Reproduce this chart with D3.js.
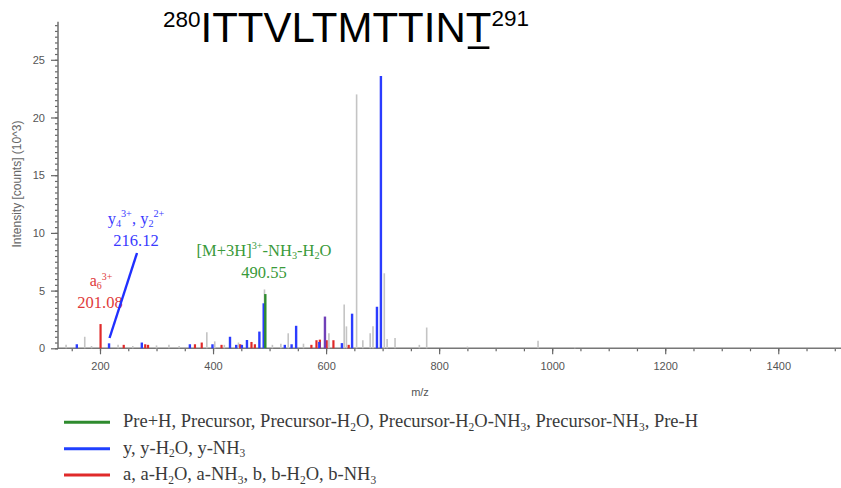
<!DOCTYPE html>
<html>
<head>
<meta charset="utf-8">
<script src="https://cdn.jsdelivr.net/npm/d3@7"></script>
<style>
  body { margin: 0; background: #fff; }
  svg { display: block; }
</style>
</head>
<body>
<div id="chart"></div>
<script>
// peaks as [m/z, intensity (10^3 counts)]
const greyPeaks = [
  [140, 0.3], [173, 1.0], [185, 0.2], [232, 0.3], [258, 0.2], [300, 0.25], [322, 0.3],
  [340, 0.2], [389, 1.4], [403, 0.6], [420, 0.3], [445, 0.5], [491, 5.1], [505, 0.3],
  [520, 0.4], [533, 1.3], [560, 0.4], [605, 1.3], [632, 3.8], [636, 1.9], [654, 22.0],
  [665, 0.7], [678, 1.3], [683, 1.9], [703, 6.5], [708, 0.8], [722, 0.9], [765, 0.3],
  [778, 1.8], [850, 0.15], [975, 0.65], [1040, 0.1]
];
const bluePeaks = [
  [159, 0.35], [216, 0.43], [274, 0.5], [359, 0.35], [399, 0.35], [430, 1.0], [441, 0.3],
  [451, 0.3], [460, 0.72], [482, 1.45], [489.6, 3.9], [527, 0.3], [539, 0.35], [547, 1.95],
  [588, 0.55], [628, 0.45], [646, 3.0], [690, 3.6], [697, 23.6]
];
const redPeaks = [
  [201, 2.1], [242, 0.3], [280, 0.35], [285, 0.3], [368, 0.35], [380, 0.5], [415, 0.3],
  [448, 0.35], [468, 0.55], [474, 0.35], [574, 0.3], [583, 0.7], [589, 0.75], [601, 0.7],
  [613, 0.7], [640, 0.3]
];
const greenPeaks = [[492.5, 4.7]];
const purplePeaks = [[598, 2.75]];

const xMajorTicks = [200, 400, 600, 800, 1000, 1200, 1400];
const yMajorTicks = [0, 5, 10, 15, 20, 25];

const legendItems = [
  { color: "#2e8b2e", parts: [["Pre+H, Precursor, Precursor-H"], ["2", "sub"], ["O, Precursor-H"], ["2", "sub"], ["O-NH"], ["3", "sub"], [", Precursor-NH"], ["3", "sub"], [", Pre-H"]] },
  { color: "#2040ff", parts: [["y, y-H"], ["2", "sub"], ["O, y-NH"], ["3", "sub"]] },
  { color: "#e02a2a", parts: [["a, a-H"], ["2", "sub"], ["O, a-NH"], ["3", "sub"], [", b, b-H"], ["2", "sub"], ["O, b-NH"], ["3", "sub"]] }
];

const width = 841, height = 488;
const svg = d3.select("#chart").append("svg")
  .attr("width", width)
  .attr("height", height);

const x = d3.scaleLinear().domain([125.7, 1511]).range([58, 841]);
const y = d3.scaleLinear().domain([0, 28.3]).range([348.3, 21.7]);

// writes text made of normal / sub / sup pieces
function richText(sel, parts, size) {
  let shift = 0;
  parts.forEach(([t, kind]) => {
    const target = kind === "sub" ? size * 0.2 : kind === "sup" ? -size * 0.4 : 0;
    sel.append("tspan")
      .attr("dy", target - shift)
      .style("font-size", kind ? (size * 0.62) + "px" : size + "px")
      .text(t);
    shift = target;
  });
}

// axes
const axisColor = "#777";
const yMinor = svg.append("g").attr("transform", "translate(58,0)")
  .call(d3.axisLeft(y).tickValues(d3.range(0, 28.01, 0.5)).tickSize(3).tickFormat(""));
const yAxis = svg.append("g").attr("transform", "translate(58,0)")
  .call(d3.axisLeft(y).tickValues(yMajorTicks).tickSize(7).tickPadding(6));
const xMinor = svg.append("g").attr("transform", "translate(0,348.3)")
  .call(d3.axisBottom(x).tickValues(d3.range(150, 1501, 50)).tickSize(3).tickFormat(""));
const xAxis = svg.append("g").attr("transform", "translate(0,348.3)")
  .call(d3.axisBottom(x).tickValues(xMajorTicks).tickSize(6).tickPadding(8).tickFormat(d3.format("d")));

[yMinor, yAxis, xMinor, xAxis].forEach(g => {
  g.select(".domain").attr("stroke", axisColor).attr("stroke-width", 1.6);
  g.selectAll(".tick line").attr("stroke", "#666").attr("stroke-width", 1.2);
  g.selectAll(".tick text")
    .attr("fill", "#555")
    .style("font-family", "'Liberation Sans', Arial, sans-serif")
    .style("font-size", "11px");
});
yAxis.select(".domain").attr("d", `M0,${y(0)}V21.7`);
yMinor.select(".domain").remove();
xMinor.select(".domain").remove();
xAxis.select(".domain").attr("d", `M58,0H841`);

svg.append("text")
  .attr("transform", "translate(21,184) rotate(-90)")
  .attr("text-anchor", "middle")
  .attr("fill", "#666")
  .style("font-family", "'Liberation Sans', Arial, sans-serif")
  .style("font-size", "12px")
  .text("Intensity [counts] (10^3)");

svg.append("text")
  .attr("x", 420).attr("y", 396)
  .attr("text-anchor", "middle")
  .attr("fill", "#555")
  .style("font-family", "'Liberation Sans', Arial, sans-serif")
  .style("font-size", "11px")
  .text("m/z");

// peaks
function drawPeaks(data, color, w, cls) {
  svg.selectAll("line." + cls)
    .data(data)
    .enter().append("line")
    .attr("class", cls)
    .attr("x1", d => x(d[0])).attr("x2", d => x(d[0]))
    .attr("y1", y(0)).attr("y2", d => y(d[1]))
    .attr("stroke", color)
    .attr("stroke-width", w);
}
drawPeaks(greyPeaks, "#c4c4c4", 1.6, "grey");
drawPeaks(redPeaks, "#e02a2a", 2.2, "red");
drawPeaks(bluePeaks, "#2b3cff", 2.4, "blue");
drawPeaks(purplePeaks, "#7040b8", 2.4, "purple");
drawPeaks(greenPeaks, "#2e8b2e", 2.4, "green");

// annotations
const serif = "'Liberation Serif', 'Times New Roman', serif";
function label(xc, yb, color, parts, size) {
  const t = svg.append("text")
    .attr("x", xc).attr("y", yb)
    .attr("text-anchor", "middle")
    .attr("fill", color)
    .style("font-family", serif);
  richText(t, parts, size);
}
label(101, 286, "#e03a3a", [["a"], ["6", "sub"], ["3+", "sup"]], 16);
label(100, 308, "#e03a3a", [["201.08"]], 16.5);
label(136, 224, "#3a3aff", [["y"], ["4", "sub"], ["3+", "sup"], [", y"], ["2", "sub"], ["2+", "sup"]], 16.5);
label(136, 246, "#3a3aff", [["216.12"]], 16.5);
label(264, 256, "#3a9a3a", [["[M+3H]"], ["3+", "sup"], ["-NH"], ["3", "sub"], ["-H"], ["2", "sub"], ["O"]], 16.5);
label(264, 278, "#3a9a3a", [["490.55"]], 16.5);

svg.append("line")
  .attr("x1", x(216) + 0.5).attr("y1", 338)
  .attr("x2", 137).attr("y2", 253)
  .attr("stroke", "#2030ff")
  .attr("stroke-width", 2.4);

// title
const title = svg.append("text")
  .attr("x", 163).attr("y", 41.7)
  .attr("fill", "#000")
  .style("font-family", "'Liberation Sans', Arial, sans-serif");
title.append("tspan").attr("dy", -14.5).style("font-size", "22.5px").text("280");
title.append("tspan").attr("dy", 14.5).style("font-size", "42px").text("ITTVLTMTTIN");
title.append("tspan").style("font-size", "42px").text("T");
title.append("tspan").attr("dy", -15.5).style("font-size", "22.5px").text("291");
{
  const ext = title.node().getExtentOfChar("280ITTVLTMTTIN".length);
  svg.append("line")
    .attr("x1", ext.x + 2).attr("x2", ext.x + ext.width - 2)
    .attr("y1", 47.7).attr("y2", 47.7)
    .attr("stroke", "#000").attr("stroke-width", 2.6);
}

// legend
const legend = svg.append("g");
legendItems.forEach((item, i) => {
  const ly = 422.3 + i * 26.4;
  legend.append("line")
    .attr("x1", 64).attr("x2", 110)
    .attr("y1", ly).attr("y2", ly)
    .attr("stroke", item.color)
    .attr("stroke-width", 3);
  const t = legend.append("text")
    .attr("x", 123).attr("y", ly + 5)
    .attr("fill", "#3a3a3a")
    .style("font-family", serif);
  richText(t, item.parts, 18.5);
});
</script>
</body>
</html>
